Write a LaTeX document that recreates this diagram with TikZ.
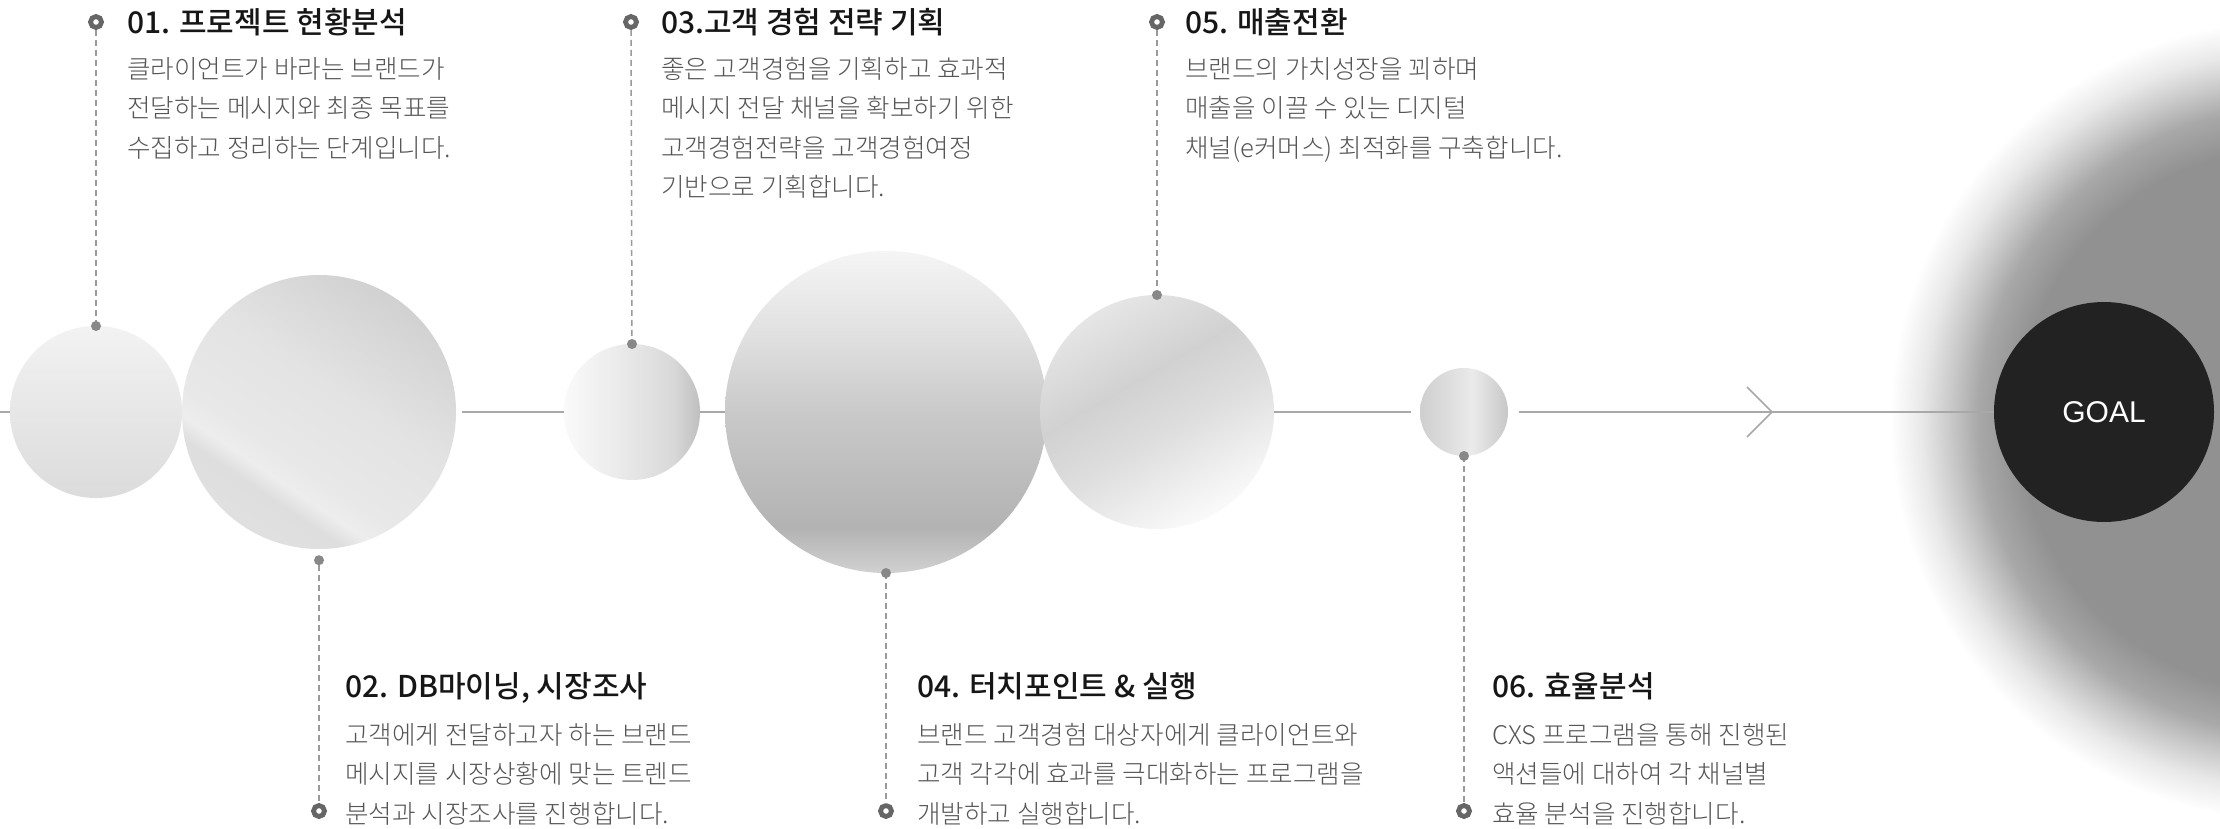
\documentclass[tikz,border=0pt]{standalone}
\usepackage{fontspec}
\newfontfamily\kr{Noto Sans CJK KR}
\newfontfamily\krmed{Noto Sans CJK KR Medium}
\newfontfamily\krlight{Noto Sans CJK KR Light}
\newfontfamily\goalfont{Liberation Sans}
\usetikzlibrary{positioning}

\definecolor{linegray}{HTML}{A8A8A8}
\definecolor{leadgray}{HTML}{9A9A9A}
\definecolor{dotgray}{HTML}{888888}
\definecolor{ringgray}{HTML}{666666}
\definecolor{titleblack}{HTML}{161616}
\definecolor{bodygray}{HTML}{555555}
\definecolor{goalblack}{HTML}{222222}

\pgfdeclareverticalshading{ballone}{100bp}{color(0bp)=(black!14); color(25bp)=(black!14); color(75bp)=(black!5); color(100bp)=(black!5)}
\pgfdeclareverticalshading{balltwo}{100bp}{color(0bp)=(black!12); color(25bp)=(black!12); color(32bp)=(black!13); color(35.5bp)=(black!7); color(40bp)=(black!9); color(55bp)=(black!11); color(75bp)=(black!18); color(100bp)=(black!18)}
\pgfdeclarehorizontalshading{ballthree}{100bp}{color(0bp)=(black!2); color(25bp)=(black!2); color(45bp)=(black!8); color(65bp)=(black!15); color(75bp)=(black!25); color(100bp)=(black!25)}
\pgfdeclareverticalshading{ballfour}{100bp}{color(0bp)=(black!18); color(25bp)=(black!18); color(32bp)=(black!30); color(50bp)=(black!21); color(62bp)=(black!12); color(75bp)=(black!4); color(100bp)=(black!4)}
\pgfdeclareverticalshading{ballfive}{100bp}{color(0bp)=(black!2); color(25bp)=(black!2); color(45bp)=(black!13); color(58bp)=(black!18); color(75bp)=(black!10); color(100bp)=(black!10)}
\pgfdeclarehorizontalshading{ballsix}{100bp}{color(0bp)=(black!19); color(25bp)=(black!19); color(55bp)=(black!8); color(75bp)=(black!22); color(100bp)=(black!22)}
\pgfdeclareradialshading{goalglow}{\pgfpoint{0bp}{0bp}}{color(0bp)=(black!43); color(17bp)=(black!43); color(19.5bp)=(black!34); color(21.25bp)=(black!21); color(23bp)=(black!9); color(25bp)=(white); color(50bp)=(white)}

\begin{document}
\begin{tikzpicture}[
		x=1pt, y=-1pt,
		ball/.style={circle, inner sep=0pt, outer sep=0pt, shade},
		goal/.style={circle, inner sep=0pt, outer sep=0pt, fill=goalblack, text=white, font=\goalfont\fontsize{30}{30}\selectfont},
		mainline/.style={draw=linegray, line width=1.6pt},
		leader/.style={draw=leadgray, line width=1.5pt, dash pattern=on 6pt off 4pt},
		ring/.style={circle, draw=ringgray, line width=4.8pt, fill=white, inner sep=0pt, minimum size=11pt},
		dot/.style={circle, fill=dotgray, inner sep=0pt, minimum size=10pt},
		title/.style={anchor=base west, inner sep=0pt, text=titleblack, font=\krmed\fontsize{30}{30}\selectfont},
		body/.style={anchor=base west, inner sep=0pt, align=left, text=bodygray, font=\krlight\fontsize{25.6}{39.5}\selectfont}
	]
	\useasboundingbox (0,0) rectangle (2220,828);
	\fill[white] (0,0) rectangle (2220,828);
	\begin{scope}
		\clip (0,0) rectangle (2220,828);
		\shade[shading=goalglow] (2290,420) circle (400);
	\end{scope}

	\node[ball, minimum size=172pt, shading=ballone] (c1) at (96,412) {};
	\node[ball, minimum size=274pt, shading=balltwo, shading angle=-34] (c2) at (319,412) {};
	\node[ball, minimum size=136pt, shading=ballthree] (c3) at (632,412) {};
	\node[ball, minimum size=322pt, shading=ballfour] (c4) at (886,412) {};
	\node[ball, minimum size=234pt, shading=ballfive, shading angle=30] (c5) at (1157,412) {};
	\node[ball, minimum size=88pt, shading=ballsix] (c6) at (1464,412) {};
	\node[goal, minimum size=220pt] (goal) at (2104,412) {GOAL};

	\coordinate (lstart) at (0,412);
	\coordinate (chev) at (1772,412);
	\draw[mainline] (lstart) -- (c1);
	\draw[mainline, shorten <=6pt] (c2) -- (c3);
	\draw[mainline] (c3) -- (c4);
	\draw[mainline, shorten >=9pt] (c5) -- (c6);
	\draw[mainline, shorten <=11pt] (c6) -- (goal);
	\draw[mainline] ([shift={(-25,-25)}]chev) -- (chev) -- ([shift={(-25,25)}]chev);

	\node[ring] (m1) at (96,22) {};
	\draw[leader] (m1) -- (c1.north);
	\node[dot] (d1) at (c1.north) {};
	\node[title] (t1) at (127,33) {01. 프로젝트 현황분석};
	\node[body] (b1) at (127,157) {클라이언트가 바라는 브랜드가\\전달하는 메시지와 최종 목표를\\수집하고 정리하는 단계입니다.};

	\node[ring] (m3) at (631,22) {};
	\draw[leader] (m3) -- (c3.north);
	\node[dot] (d3) at (c3.north) {};
	\node[title] (t3) at (661,33) {03.고객 경험 전략 기획};
	\node[body] (b3) at (661,196.5) {좋은 고객경험을 기획하고 효과적\\메시지 전달 채널을 확보하기 위한\\고객경험전략을 고객경험여정\\기반으로 기획합니다.};

	\node[ring] (m5) at (1157,22) {};
	\draw[leader] (m5) -- (c5.north);
	\node[dot] (d5) at (c5.north) {};
	\node[title] (t5) at (1185,33) {05. 매출전환};
	\node[body] (b5) at (1185,157) {브랜드의 가치성장을 꾀하며\\매출을 이끌 수 있는 디지털\\채널(e커머스) 최적화를 구축합니다.};

	\node[dot, below=6pt of c2] (d2) {};
	\node[ring] (m2) at (319,811) {};
	\draw[leader] (d2) -- (m2);
	\node[title] (t2) at (345,697) {02. DB마이닝, 시장조사};
	\node[body] (b2) at (345,823) {고객에게 전달하고자 하는 브랜드\\메시지를 시장상황에 맞는 트렌드\\분석과 시장조사를 진행합니다.};

	\node[ring] (m4) at (886,811) {};
	\draw[leader] (c4.south) -- (m4);
	\node[dot] (d4) at (c4.south) {};
	\node[title] (t4) at (917,697) {04. 터치포인트 \& 실행};
	\node[body] (b4) at (917,823) {브랜드 고객경험 대상자에게 클라이언트와\\고객 각각에 효과를 극대화하는 프로그램을\\개발하고 실행합니다.};

	\node[ring] (m6) at (1464,811) {};
	\draw[leader] (c6.south) -- (m6);
	\node[dot] (d6) at (c6.south) {};
	\node[title] (t6) at (1492,697) {06. 효율분석};
	\node[body] (b6) at (1492,823) {CXS 프로그램을 통해 진행된\\액션들에 대하여 각 채널별\\효율 분석을 진행합니다.};
\end{tikzpicture}
\end{document}
